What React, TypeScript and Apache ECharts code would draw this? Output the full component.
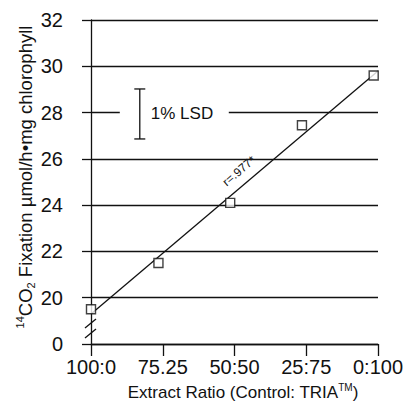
import React, { useEffect, useRef } from "react";
import * as echarts from "echarts";

const xTickLabels = ["100:0", "75.25", "50:50", "25:75", "0:100"];
const pointX = [0, 0.94, 1.94, 2.94, 3.94];
const pointY = [19.5, 21.5, 24.1, 27.45, 29.6];
const fitX = [0, 4];
const fitY = [19.3, 29.8];
const lsdX = [0.68];
const lsdLow = [26.86];
const lsdHigh = [29.02];
const yMin = 18; // shown as "0" (broken axis)
const yMax = 32;

const FONT = "'Liberation Sans', Arial, Helvetica, sans-serif";
const INK = "#111111";

export default function App() {
  const ref = useRef<HTMLDivElement>(null);
  useEffect(() => {
    if (!ref.current) return;
    const chart = echarts.init(ref.current, undefined, { renderer: "svg" });
    const option: any = {
      animation: false,
      backgroundColor: "#fff",
      grid: { left: 91, right: 31, top: 20, bottom: 65, containLabel: false },
      xAxis: {
        type: "value",
        min: 0,
        max: xTickLabels.length - 1,
        interval: 1,
        axisLine: { show: true, lineStyle: { color: INK, width: 1.3 } },
        axisTick: { show: true, length: 12, lineStyle: { color: INK, width: 1.3 } },
        splitLine: { show: false },
        axisLabel: {
          margin: 13,
          fontSize: 20,
          fontFamily: FONT,
          color: INK,
          formatter: (v: number) => xTickLabels[Math.round(v)] ?? "",
        },
      },
      yAxis: {
        type: "value",
        min: yMin,
        max: yMax,
        interval: 2,
        axisLine: { show: true, lineStyle: { color: INK, width: 1.3 } },
        axisTick: { show: true, length: 9, lineStyle: { color: INK, width: 1.3 } },
        splitLine: { show: true, lineStyle: { color: INK, width: 1.3 } },
        axisLabel: {
          margin: 28,
          fontSize: 20,
          fontFamily: FONT,
          color: INK,
          formatter: (v: number) => (v === yMin ? "0" : String(v)),
        },
      },
      series: [
        {
          type: "line",
          data: fitX.map((x, i) => [x, fitY[i]]),
          symbol: "none",
          lineStyle: { color: INK, width: 1.3 },
          z: 3,
        },
        {
          type: "scatter",
          data: pointX.map((x, i) => [x, pointY[i]]),
          symbol: "rect",
          symbolSize: 9,
          itemStyle: { color: "#fff", borderColor: INK, borderWidth: 1.4 },
          z: 4,
        },
        {
          type: "custom",
          data: lsdX.map((x, i) => [x, lsdLow[i], lsdHigh[i]]),
          z: 2,
          renderItem: (params: any, api: any) => {
            const x = api.value(0);
            const lo = api.value(1);
            const hi = api.value(2);
            const top = api.coord([x, hi]);
            const bot = api.coord([x, lo]);
            const midY = (top[1] + bot[1]) / 2;
            const px = top[0];
            return {
              type: "group",
              children: [
                {
                  type: "rect",
                  shape: { x: px - 20, y: midY - 3, width: 109, height: 6 },
                  style: { fill: "#fff" },
                },
                {
                  type: "line",
                  shape: { x1: px, y1: top[1], x2: px, y2: bot[1] },
                  style: { stroke: INK, lineWidth: 1.3 },
                },
                {
                  type: "line",
                  shape: { x1: px - 5.5, y1: top[1], x2: px + 5.5, y2: top[1] },
                  style: { stroke: INK, lineWidth: 1.3 },
                },
                {
                  type: "line",
                  shape: { x1: px - 5.5, y1: bot[1], x2: px + 5.5, y2: bot[1] },
                  style: { stroke: INK, lineWidth: 1.3 },
                },
                {
                  type: "text",
                  x: px + 11,
                  y: midY,
                  style: {
                    text: "1% LSD",
                    fontSize: 17,
                    fontFamily: FONT,
                    fill: INK,
                    align: "left",
                    verticalAlign: "middle",
                  },
                },
              ],
            };
          },
        },
      ],
      graphic: [
        {
          type: "line",
          shape: { x1: 85, y1: 328, x2: 96, y2: 319 },
          style: { stroke: INK, lineWidth: 1.3 },
          z: 10,
        },
        {
          type: "line",
          shape: { x1: 85, y1: 338, x2: 96, y2: 329 },
          style: { stroke: INK, lineWidth: 1.3 },
          z: 10,
        },
        {
          type: "text",
          x: 239,
          y: 171,
          rotation: 0.705,
          style: {
            text: "r=.977*",
            fontSize: 12,
            fontFamily: FONT,
            fill: INK,
            align: "center",
            verticalAlign: "middle",
          },
          z: 10,
        },
        {
          type: "text",
          x: 25,
          y: 177,
          rotation: Math.PI / 2,
          style: {
            text: "{sup|14}{b|CO}{sub|2}{b| Fixation µmol/h•mg chlorophyll}",
            align: "center",
            verticalAlign: "middle",
            fill: INK,
            fontFamily: FONT,
            rich: {
              b: { fontSize: 18.5, fontFamily: FONT, fill: INK, color: INK, lineHeight: 22 },
              sup: { fontSize: 11, fontFamily: FONT, fill: INK, color: INK, verticalAlign: "top", lineHeight: 12 },
              sub: { fontSize: 11, fontFamily: FONT, fill: INK, color: INK, verticalAlign: "bottom", lineHeight: 12 },
            },
          },
          z: 10,
        },
        {
          type: "text",
          x: 243,
          y: 392,
          style: {
            text: "{b|Extract Ratio (Control: TRIA}{sup|TM}{b|)}",
            align: "center",
            verticalAlign: "middle",
            fill: INK,
            fontFamily: FONT,
            rich: {
              b: { fontSize: 17, fontFamily: FONT, fill: INK, color: INK, lineHeight: 20 },
              sup: { fontSize: 10, fontFamily: FONT, fill: INK, color: INK, verticalAlign: "top", lineHeight: 10 },
            },
          },
          z: 10,
        },
      ],
    };
    chart.setOption(option);
    return () => chart.dispose();
  }, []);
  return <div ref={ref} style={{ width: 409, height: 409, position: "absolute", left: 0, top: 0 }} />;
}
